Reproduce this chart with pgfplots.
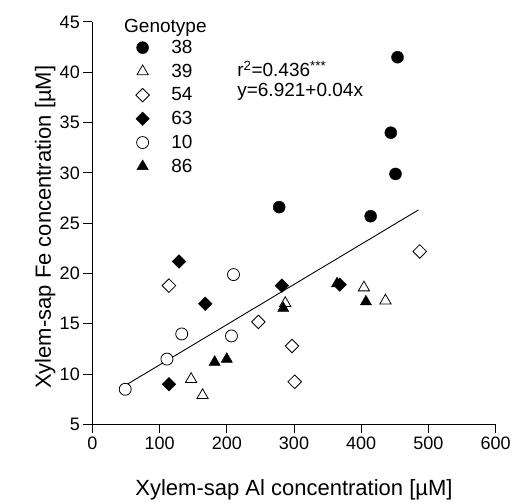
\documentclass[border=0pt]{standalone}
\usepackage{fontspec}
\setmainfont{Liberation Sans}
\usepackage{pgfplots}
\pgfplotsset{compat=1.18}

\begin{document}
\begin{tikzpicture}
\useasboundingbox (-92.3pt,-78.5pt) rectangle (419.7pt,424.5pt);
\begin{axis}[
  at={(0,0)}, anchor=south west,
  scale only axis, width=403.4pt, height=402.5pt,
  xmin=0, xmax=600, ymin=5, ymax=45,
  clip=false,
  axis x line=bottom, axis y line=left,
  axis line style={-, line width=1pt},
  xtick={0,100,...,600}, ytick={5,10,...,45},
  tick align=outside, major tick length=9pt,
  tick style={line width=1pt, black},
  ticklabel style={font=\fontsize{18}{20}\selectfont},
  /pgf/number format/assume math mode=true,
  xlabel={Xylem-sap Al concentration [µM]},
  ylabel={Xylem-sap Fe concentration [µM]},
  label style={font=\fontsize{22}{26}\selectfont},
  xlabel style={at={(axis description cs:0.5,-0.1627)}, anchor=center},
  ylabel style={at={(axis description cs:-0.1165,0.49)}, anchor=center},
  legend style={draw=none, fill=none, at={(axis description cs:0.10,0.965)},
    anchor=north west, font=\fontsize{19}{21}\selectfont, row sep=5pt,
    /tikz/every odd column/.append style={column sep=20pt}},
  legend cell align=left,
]
% regression line
\addplot[black, line width=0.9pt, forget plot] coordinates {(51,8.96) (485,26.32)};

% genotype 38
\addplot[only marks, mark=*, mark size=6pt, black] coordinates {
  (278,26.6) (414,25.7) (451,29.9) (444,34.0) (454,41.5)};
\addlegendentry{38}
% genotype 39
\addplot[only marks, mark=triangle*, mark size=6.5pt, black, mark options={fill=white, line width=0.8pt}] coordinates {
  (287,17.05) (404,18.6) (436,17.3) (147,9.5) (164,7.9)};
\addlegendentry{39}
% genotype 54
\addplot[only marks, mark=square*, mark size=4.8pt, black, mark options={rotate=45, fill=white, line width=0.8pt}] coordinates {
  (114,18.8) (247,15.2) (297,12.8) (301,9.25) (487,22.2)};
\addlegendentry{54}
% genotype 63
\addplot[only marks, mark=square*, mark size=4.8pt, black, mark options={rotate=45}] coordinates {
  (129,21.2) (168,17.0) (114,9.0) (282,18.8) (368,18.9)};
\addlegendentry{63}
% genotype 10
\addplot[only marks, mark=*, mark size=6pt, black, mark options={fill=white, line width=0.8pt}] coordinates {
  (210,19.9) (133,14.0) (207,13.8) (111,11.5) (49,8.5)};
\addlegendentry{10}
% genotype 86
\addplot[only marks, mark=triangle*, mark size=6.5pt, black] coordinates {
  (182,11.2) (200,11.5) (284,16.55) (364,19.0) (407,17.2)};
\addlegendentry{86}

\node[anchor=west, font=\fontsize{19}{21}\selectfont, inner sep=0pt] at (axis description cs:0.0786,0.985) {Genotype};
\node[anchor=west, font=\fontsize{19}{21}\selectfont, inner sep=0pt] at (axis description cs:0.359,0.883) {r\textsuperscript{2}=0.436\textsuperscript{***}};
\node[anchor=west, font=\fontsize{19}{21}\selectfont, inner sep=0pt] at (axis description cs:0.359,0.826) {y=6.921+0.04x};
\end{axis}
\end{tikzpicture}
\end{document}
